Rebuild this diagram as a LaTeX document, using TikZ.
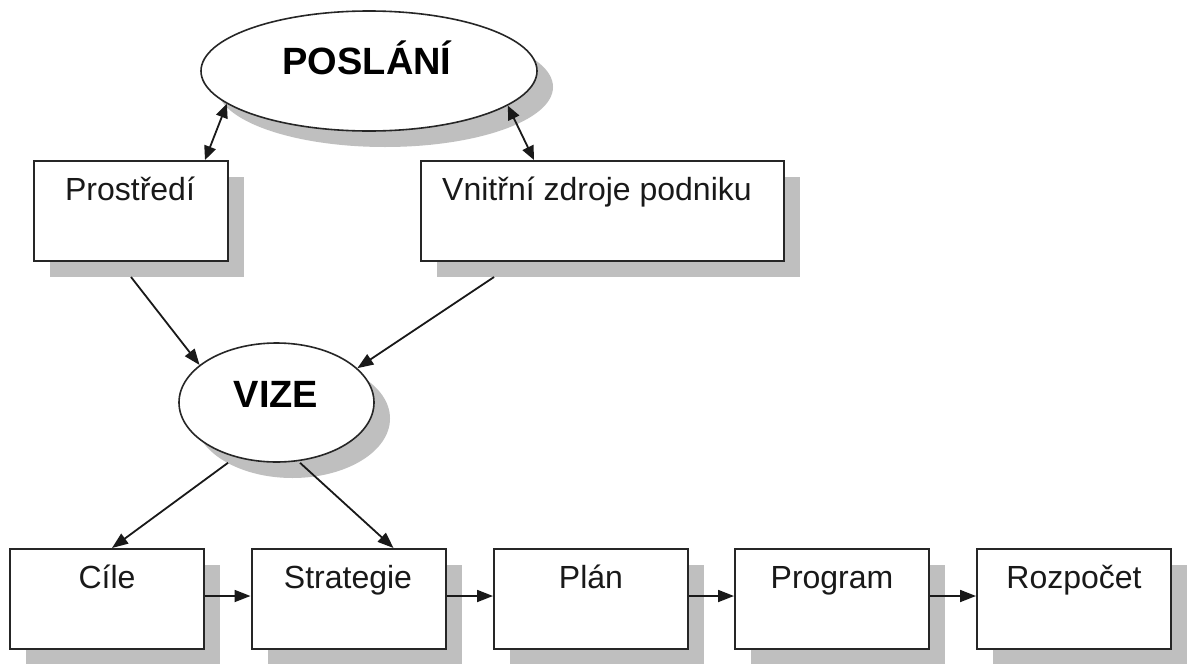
\documentclass[tikz,border=0pt]{standalone}
\usepackage{fontspec}
\setmainfont{Liberation Sans}
\usetikzlibrary{shapes.geometric,arrows.meta,shadows}
\begin{document}
\begin{tikzpicture}[x=1pt,y=-1pt,
  shade/.style={drop shadow={shadow xshift=16pt,shadow yshift=-16pt,opacity=1,fill=black!25}},
  box/.style={rectangle,draw=black!85,line width=2pt,fill=white,minimum height=100pt,inner sep=0pt,shade},
  oval/.style={ellipse,draw=black!85,line width=1.6pt,fill=white,inner sep=0pt,shade},
  txt/.style={anchor=base,inner sep=0pt,text=black!90,font=\fontsize{32}{38}\selectfont},
  btxt/.style={anchor=base,inner sep=0pt,font=\fontsize{38}{44}\selectfont\bfseries},
  arr/.style={line width=1.8pt,draw=black!90,-{Triangle[length=16pt,width=12pt]}},
  darr/.style={line width=1.8pt,draw=black!90,{Triangle[length=14pt,width=12pt]}-{Triangle[length=14pt,width=12pt]}}]
\useasboundingbox[fill=white] (0,0) rectangle (1189,664);

% top ellipse
\node[oval,minimum width=336pt,minimum height=120pt] (poslani) at (369,71) {};
\node[btxt] (poslaniT) at (367,74) {POSLÁNÍ};

% middle boxes
\node[box,minimum width=194pt] (prost) at (131,211) {};
\node[txt] (prostT) at (130,200) {Prostředí};
\node[box,minimum width=363pt] (vnitr) at (602.5,211) {};
\node[txt] (vnitrT) at (597,200) {Vnitřní zdroje podniku};

% vize ellipse
\node[oval,minimum width=195pt,minimum height=119pt] (vize) at (276.5,402.5) {};
\node[btxt] (vizeT) at (276,407) {VIZE};

% bottom row
\node[box,minimum width=194pt] (cile) at (107,599) {};
\node[txt] (cileT) at (107,588) {Cíle};
\node[box,minimum width=194pt] (strat) at (348.5,599) {};
\node[txt] (stratT) at (348,588) {Strategie};
\node[box,minimum width=194pt] (plan) at (591,599) {};
\node[txt] (planT) at (591,588) {Plán};
\node[box,minimum width=194pt] (prog) at (832,599) {};
\node[txt] (progT) at (832,588) {Program};
\node[box,minimum width=194pt] (rozp) at (1074,599) {};
\node[txt] (rozpT) at (1074,588) {Rozpočet};

% connectors
\draw[darr] (poslani.193.5) -- ([xshift=74pt]prost.north);
\draw[darr] (poslani.346) -- ([xshift=-68.5pt]vnitr.north);
\draw[arr] ([yshift=-15pt]prost.south) -- (vize.154.5);
\draw[arr] ([xshift=-108.5pt,yshift=-15pt]vnitr.south) -- (vize.23.5);
\draw[arr] ([xshift=-48.5pt]vize.south) -- ([xshift=5pt]cile.north);
\draw[arr] ([xshift=23.5pt]vize.south) -- ([xshift=45pt]strat.north);
\draw[arr] ([yshift=3pt]cile.east) -- ([yshift=3pt]strat.west);
\draw[arr] ([yshift=3pt]strat.east) -- ([yshift=3pt]plan.west);
\draw[arr] ([yshift=3pt]plan.east) -- ([yshift=3pt]prog.west);
\draw[arr] ([yshift=3pt]prog.east) -- ([yshift=3pt]rozp.west);
\end{tikzpicture}
\end{document}
